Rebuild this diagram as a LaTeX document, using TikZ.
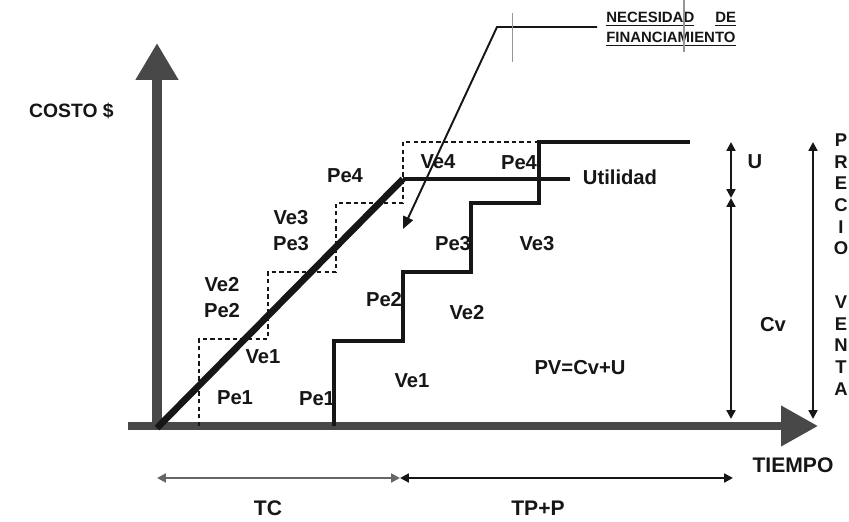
\documentclass[tikz,border=0pt]{standalone}
\usepackage{fontspec}
\setmainfont{Liberation Sans}
\usepackage{xcolor}
\usepackage{tikz}
\usetikzlibrary{arrows.meta, positioning, calc}
\definecolor{ink}{RGB}{22, 22, 22}
\definecolor{axisgray}{RGB}{72, 72, 72}
\definecolor{scan}{RGB}{150, 150, 150}
\newcommand{\lblfont}{\fontsize{11.5}{13}\selectfont\bfseries}
\newcommand{\axfont}{\fontsize{12}{14}\selectfont\bfseries}
\newcommand{\tinyfont}{\fontsize{8.5}{11.3}\selectfont\bfseries}

\begin{document}
\begin{tikzpicture}[
  x=0.02cm, y=-0.02cm,
  lbl/.style={font=\lblfont, text=ink, inner sep=0pt},
  axlbl/.style={font=\axfont, text=ink, inner sep=0pt},
  axis/.style={line width=#1, draw=axisgray},
  cstep/.style={line width=1.3pt, dash pattern=on 2.5pt off 1.8pt, draw=ink},
  sstep/.style={line width=1.8pt, draw=ink},
  dim/.style={{Triangle[length=5pt, width=5pt]}-{Triangle[length=5pt, width=5pt]},
              line width=1.2pt, draw=ink},
  lead/.style={-{Triangle[length=7pt, width=6pt]}, line width=1.1pt, draw=ink}
]
  \fill[white] (0,0) rectangle (849,521);
  \useasboundingbox (0,0) rectangle (849,521);

  %% Axes
  \coordinate (o)    at (157,428);
  \coordinate (ytop) at (157,43);
  \coordinate (xl)   at (128,426);
  \coordinate (xr)   at (818,426);
  \draw[axis=6.2pt, -{Triangle[length=21pt, width=23pt]}] (o) -- (ytop);
  \draw[axis=4.5pt, -{Triangle[length=21pt, width=22pt]}] (xl) -- (xr);
  \node[lbl, font=\fontsize{11}{13}\selectfont\bfseries, anchor=east]
    (costo) at (114,111) {COSTO \$};
  \node[axlbl] (tiempo) at (793,465) {TIEMPO};

  %% Cost steps (dashed) and sales steps (solid)
  \draw[cstep] (199,426) -- (199,339) -- (268,339) -- (268,272) -- (336,272)
    -- (336,203) -- (403,203) -- (403,142) -- (539,142);
  \draw[sstep] (334,426) -- (334,341) -- (403,341) -- (403,272) -- (471,272)
    -- (471,203) -- (539,203) -- (539,142) -- (690,142);

  %% Cost line and profit level
  \coordinate (cima) at (403,179);
  \coordinate (uend) at (570,179);
  \draw[line width=3.8pt, draw=ink] (o) -- (cima);
  \draw[line width=1.8pt, draw=ink] (cima) -- (uend);
  \node[lbl] (util) at (620,177) {Utilidad};

  %% Labels, construction side
  \node[lbl] (pe1) at (235,398) {Pe1};
  \node[lbl] (ve1) at (263,357) {Ve1};
  \node[lbl] (ve2) at (222,285) {Ve2};
  \node[lbl] (pe2) at (222,311) {Pe2};
  \node[lbl] (ve3) at (291,218) {Ve3};
  \node[lbl] (pe3) at (291,244) {Pe3};
  \node[lbl] (pe4) at (345,176) {Pe4};
  \node[lbl] (ve4) at (438,162) {Ve4};

  %% Labels, sales side
  \node[lbl] (pa1) at (317,399) {Pe1};
  \node[lbl] (va1) at (412,381) {Ve1};
  \node[lbl] (pa2) at (384,300) {Pe2};
  \node[lbl] (va2) at (467,313) {Ve2};
  \node[lbl] (pa3) at (453,244) {Pe3};
  \node[lbl] (va3) at (537,244) {Ve3};
  \node[lbl] (pa4) at (519,163) {Pe4};
  \node[lbl] (pv)  at (580,368) {PV=Cv+U};

  %% Financing need
  \node[font=\tinyfont, text=ink, inner sep=0pt, anchor=north west, align=left]
    (nec) at (606,12)
    {\underline{NECESIDAD}\hspace{12pt}\underline{DE}\\ \underline{FINANCIAMIENTO}};
  \coordinate (nl)   at (597,27);
  \coordinate (kink) at (497,27);
  \coordinate (need) at (403,229);
  \draw[lead] (nl) -- (kink) -- (need);
  \draw[scan, line width=0.7pt] (684,0) -- (684,52);
  \draw[scan, line width=0.5pt] (512,13) -- (512,62);

  %% Price = cost + profit
  \coordinate (u1) at (731,142);
  \coordinate (u2) at (731,198);
  \coordinate (u3) at (731,419);
  \draw[dim] (u1) -- (u2);
  \draw[dim] (u2) -- (u3);
  \node[lbl] (ulab)  at (755,162) {U};
  \node[lbl] (cvlab) at (773,325) {Cv};
  \coordinate (p1) at (813,142);
  \coordinate (p2) at (813,419);
  \draw[dim] (p1) -- (p2);
  \foreach \ch [count=\i] in {P,R,E,C,I,O}
    \node[font=\fontsize{10.5}{12}\selectfont\bfseries, text=ink, inner sep=0pt]
      (pr\i) at (841,{140+21.7*(\i-1)}) {\ch};
  \foreach \ch [count=\i] in {V,E,N,T,A}
    \node[font=\fontsize{10.5}{12}\selectfont\bfseries, text=ink, inner sep=0pt]
      (vt\i) at (841,{302+21.8*(\i-1)}) {\ch};

  %% Time spans
  \coordinate (t0) at (157,478);
  \coordinate (t1) at (400,478);
  \coordinate (t2) at (733,478);
  \draw[dim, draw=black!60] (t0) -- (t1);
  \draw[dim] (t1) -- (t2);
  \node[axlbl] (tc)  at (268,508) {TC};
  \node[axlbl] (tpp) at (538,508) {TP+P};
\end{tikzpicture}
\end{document}
